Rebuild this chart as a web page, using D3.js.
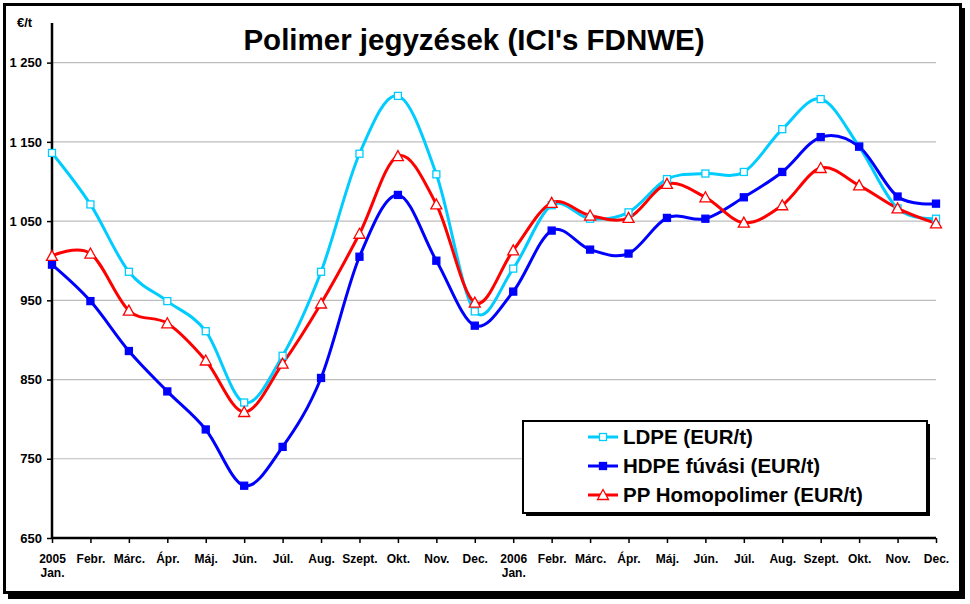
<!DOCTYPE html>
<html>
<head>
<meta charset="utf-8">
<script src="https://cdn.jsdelivr.net/npm/d3@7"></script>
<style>
	body { margin: 0; background: #fff; }
	text { font-family: Arial, "Liberation Sans", sans-serif; font-weight: bold; }
</style>
</head>
<body>
<script>
// month labels, two lines where needed
const months = [
	['2005', 'Jan.'], ['Febr.'], ['Márc.'], ['Ápr.'], ['Máj.'], ['Jún.'], ['Júl.'], ['Aug.'], ['Szept.'], ['Okt.'], ['Nov.'], ['Dec.'],
	['2006', 'Jan.'], ['Febr.'], ['Márc.'], ['Ápr.'], ['Máj.'], ['Jún.'], ['Júl.'], ['Aug.'], ['Szept.'], ['Okt.'], ['Nov.'], ['Dec.']
];

const ldpe = [1136, 1071, 986, 949, 911, 821, 880, 986, 1135, 1208, 1109, 936,
	990, 1070, 1053, 1061, 1103, 1110, 1112, 1166, 1204, 1144, 1066, 1053];
const hdpe = [995, 949, 886, 835, 787, 716, 765, 852, 1005, 1083, 1000, 918,
	961, 1038, 1014, 1009, 1054, 1053, 1080, 1112, 1156, 1144, 1081, 1072];
const pp = [1006, 1009, 937, 921, 874, 809, 870, 946, 1034, 1132, 1071, 947,
	1013, 1073, 1057, 1054, 1097, 1080, 1048, 1070, 1117, 1095, 1066, 1047];

const yTicks = [650, 750, 850, 950, 1050, 1150, 1250];

const series = [
	{ name: 'LDPE (EUR/t)', values: ldpe, color: '#00CCFF', marker: 'square-open' },
	{ name: 'HDPE fúvási (EUR/t)', values: hdpe, color: '#0000FF', marker: 'square' },
	{ name: 'PP Homopolimer (EUR/t)', values: pp, color: '#FF0000', marker: 'triangle' }
];

const W = 970, H = 604;
const margin = { top: 23, bottom: 66, left: 52, right: 34 };
const width = W - margin.left - margin.right;
const height = H - margin.top - margin.bottom;

const svg = d3.select('body').append('svg')
	.attr('width', W)
	.attr('height', H);

// chart area frame with shadow
svg.append('rect')
	.attr('x', 8).attr('y', 8)
	.attr('width', 957).attr('height', 591)
	.attr('fill', '#000');
svg.append('rect')
	.attr('x', 4.5).attr('y', 4.5)
	.attr('width', 956).attr('height', 588)
	.attr('fill', '#fff')
	.attr('stroke', '#000')
	.attr('stroke-width', 3);

const g = svg.append('g')
	.attr('transform', 'translate(' + margin.left + ',' + margin.top + ')');

const xScale = d3.scaleLinear().domain([0, months.length - 1]).range([0, width]);
const yScale = d3.scaleLinear().domain([650, 1300]).range([height, 0]);

// gridlines
g.append('g')
	.selectAll('line')
	.data(yTicks.filter(d => d > 650))
	.enter().append('line')
	.attr('x1', 0).attr('x2', width)
	.attr('y1', d => yScale(d)).attr('y2', d => yScale(d))
	.attr('stroke', '#BDBDBD')
	.attr('stroke-width', 1.2);

// y axis
const yAxis = d3.axisLeft(yScale)
	.tickValues(yTicks)
	.tickSize(5)
	.tickPadding(5)
	.tickFormat(d => d3.format(',')(d).replace(',', ' '));
const yG = g.append('g').call(yAxis);
yG.select('.domain').attr('stroke', '#000').attr('stroke-width', 2.5).attr('d', 'M0,' + height + 'V0');
yG.selectAll('.tick line').attr('stroke', '#000').attr('stroke-width', 1.5);
yG.selectAll('.tick text')
	.style('font-size', '13px')
	.style('font-family', 'Arial, "Liberation Sans", sans-serif')
	.style('font-weight', 'bold')
	.attr('fill', '#000');

// x axis
const xAxis = d3.axisBottom(xScale)
	.tickValues(d3.range(months.length))
	.tickSize(5)
	.tickFormat('');
const xG = g.append('g')
	.attr('transform', 'translate(0,' + height + ')')
	.call(xAxis);
xG.select('.domain').attr('stroke', '#000').attr('stroke-width', 2.5).attr('d', 'M0,0H' + width);
xG.selectAll('.tick line').attr('stroke', '#000').attr('stroke-width', 1.5);
xG.selectAll('.tick').each(function(d) {
	const t = d3.select(this).append('text')
		.attr('text-anchor', 'middle')
		.attr('fill', '#000')
		.style('font-size', '12px');
	months[d].forEach(function(s, i) {
		t.append('tspan').attr('x', 0).attr('y', 25 + i * 14).text(s);
	});
});

// unit label
svg.append('text')
	.attr('x', 17).attr('y', 27)
	.style('font-size', '13px')
	.text('€/t');

// title
svg.append('text')
	.attr('x', 474).attr('y', 50)
	.attr('text-anchor', 'middle')
	.style('font-size', '29.5px')
	.text("Polimer jegyzések (ICI's FDNWE)");

// lines
const line = d3.line()
	.x((d, i) => xScale(i))
	.y(d => yScale(d))
	.curve(d3.curveCardinal.tension(0));

function drawMarker(sel, type, color) {
	if (type === 'triangle') {
		sel.append('path')
			.attr('d', 'M0,-5.5L5.5,4.5L-5.5,4.5Z')
			.attr('fill', '#fff')
			.attr('stroke', color)
			.attr('stroke-width', 1.3);
	} else {
		sel.append('rect')
			.attr('x', -3.5).attr('y', -3.5)
			.attr('width', 7).attr('height', 7)
			.attr('fill', type === 'square' ? color : '#fff')
			.attr('stroke', color)
			.attr('stroke-width', 1.3);
	}
}

series.forEach(function(s) {
	g.append('path')
		.datum(s.values)
		.attr('fill', 'none')
		.attr('stroke', s.color)
		.attr('stroke-width', 3)
		.attr('d', line);
});

series.forEach(function(s) {
	g.append('g')
		.selectAll('g')
		.data(s.values)
		.enter().append('g')
		.attr('transform', (d, i) => 'translate(' + xScale(i) + ',' + yScale(d) + ')')
		.each(function() { drawMarker(d3.select(this), s.marker, s.color); });
});

// legend
const lx = 523, ly = 421, lw = 404, lh = 92;
svg.append('rect')
	.attr('x', lx + 3).attr('y', ly + 3)
	.attr('width', lw).attr('height', lh)
	.attr('fill', '#000');
svg.append('rect')
	.attr('x', lx).attr('y', ly)
	.attr('width', lw).attr('height', lh)
	.attr('fill', '#fff')
	.attr('stroke', '#000')
	.attr('stroke-width', 2);

series.forEach(function(s, i) {
	const row = svg.append('g')
		.attr('transform', 'translate(' + lx + ',' + (ly + 16 + i * 29) + ')');
	row.append('line')
		.attr('x1', 65).attr('x2', 95)
		.attr('stroke', s.color)
		.attr('stroke-width', 3);
	drawMarker(row.append('g').attr('transform', 'translate(80,0)'), s.marker, s.color);
	row.append('text')
		.attr('x', 100).attr('y', 7)
		.style('font-size', '20.5px')
		.text(s.name);
});
</script>
</body>
</html>
